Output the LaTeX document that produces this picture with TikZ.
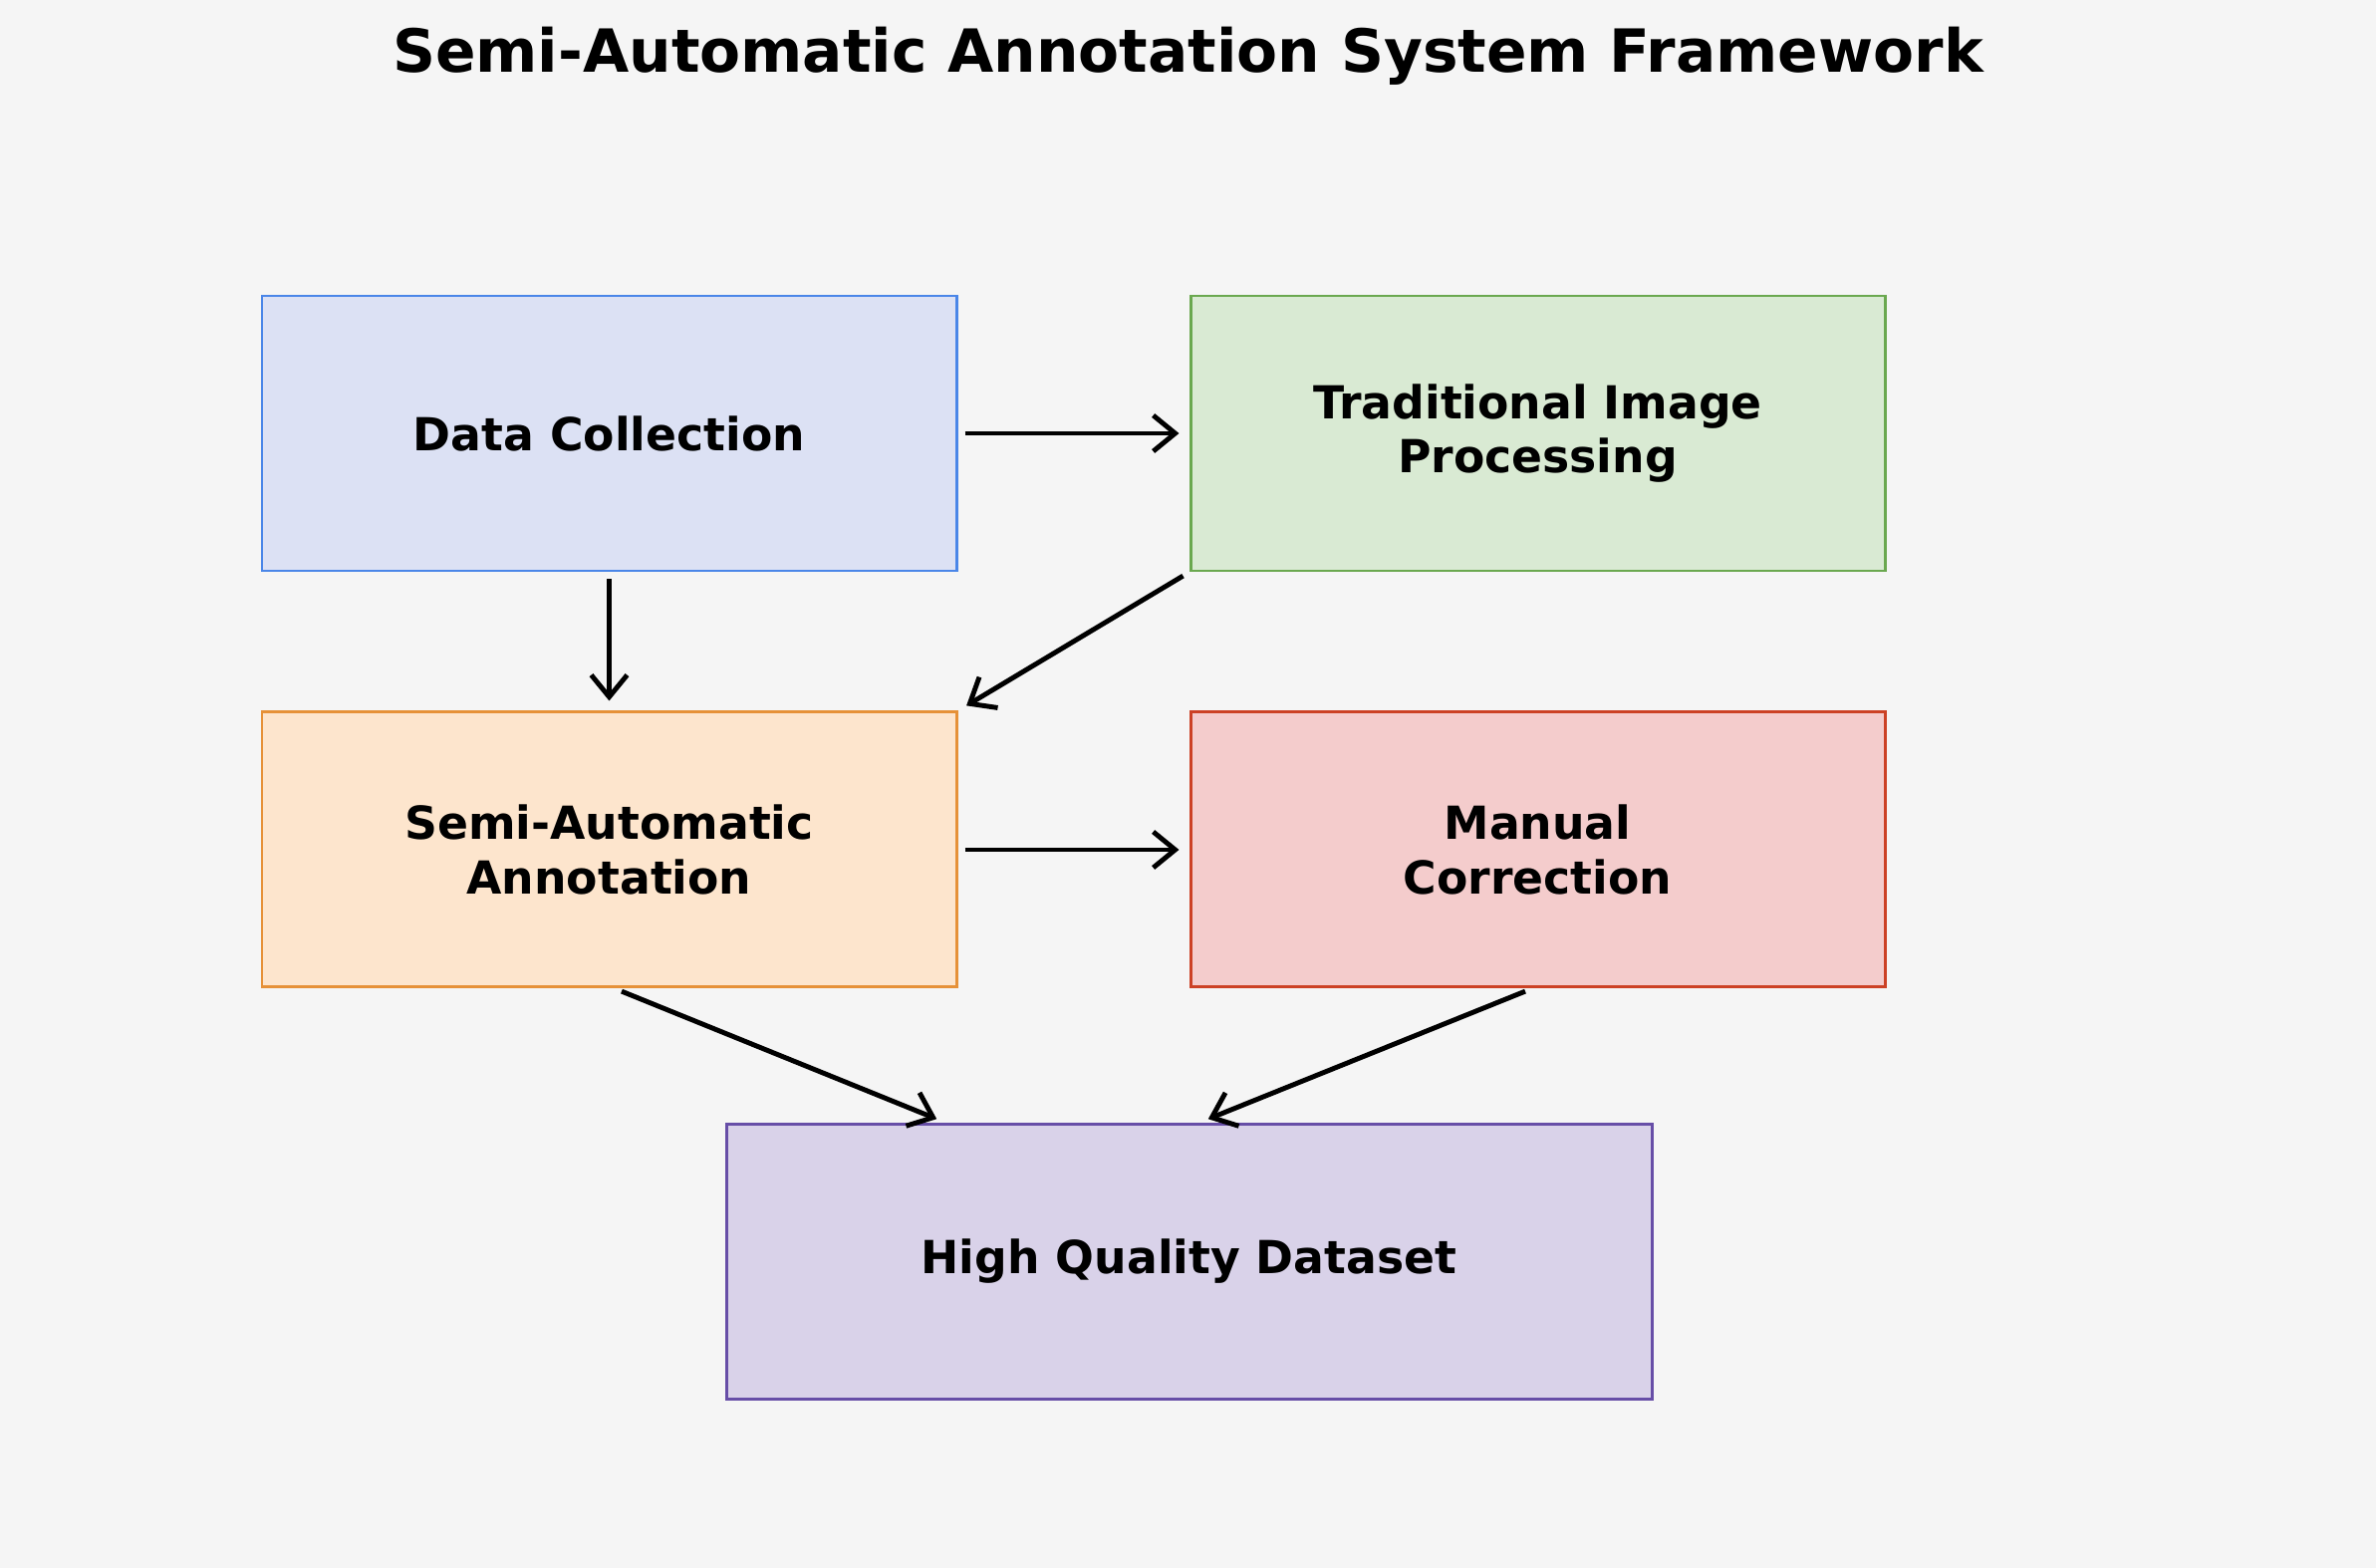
\documentclass[tikz,border=0pt]{standalone}
\usepackage{fontspec}
\setmainfont{DejaVu Sans}
\usetikzlibrary{arrows.meta,positioning,calc}
\definecolor{bgc}{HTML}{F5F5F5}
\definecolor{dcfill}{HTML}{DCE1F4}\definecolor{dcline}{HTML}{4A86E8}
\definecolor{tpfill}{HTML}{D9EAD3}\definecolor{tpline}{HTML}{6AA84F}
\definecolor{safill}{HTML}{FDE5CD}\definecolor{saline}{HTML}{E69138}
\definecolor{mcfill}{HTML}{F4CCCC}\definecolor{mcline}{HTML}{CC4125}
\definecolor{hqfill}{HTML}{D9D2E9}\definecolor{hqline}{HTML}{674EA7}
\begin{document}
\begin{tikzpicture}[node distance=1.39cm and 2.32cm,
		box/.style={draw, line width=0.85pt, minimum width=6.97cm, minimum height=2.76cm,
			align=center, font=\fontsize{13}{15.5}\selectfont\bfseries, inner sep=0pt},
		every edge/.style={draw, -{Straight Barb[length=2.2mm,width=3.6mm]}, line width=1.4pt,
			shorten <=0.07cm, shorten >=0.1cm}]
		\fill[bgc] (0,0) rectangle (23.85,-15.74);
		\useasboundingbox (0,0) rectangle (23.85,-15.74);

		% Nodes
		\node (title) at (11.925,-0.56) {\fontsize{17}{20}\selectfont\bfseries Semi-Automatic Annotation System Framework};
		\node (dc) [box, fill=dcfill, draw=dcline] at (6.115,-4.35) {Data Collection};
		\node (tp) [box, fill=tpfill, draw=tpline, right=of dc] {Traditional Image\\Processing};
		\node (sa) [box, fill=safill, draw=saline, below=of dc] {Semi-Automatic\\Annotation};
		\node (mc) [box, fill=mcfill, draw=mcline, below=of tp] {Manual\\Correction};
		\node (hq) [box, fill=hqfill, draw=hqline, minimum width=9.29cm] at (11.935,-12.665) {High Quality Dataset};
		\coordinate (hql) at ($(hq.north)+(-2.44,0)$);
		\coordinate (hqr) at ($(hq.north)+(0.1,0)$);

		% Edges
		\draw (dc) edge (tp);
		\draw (dc) edge (sa);
		\draw (tp.south west) edge (sa.north east);
		\draw (sa) edge (mc);
		\draw ($(sa.south)+(0.06,0)$) edge (hql);
		\draw ($(mc.south)+(-0.06,0)$) edge (hqr);
	\end{tikzpicture}
\end{document}
